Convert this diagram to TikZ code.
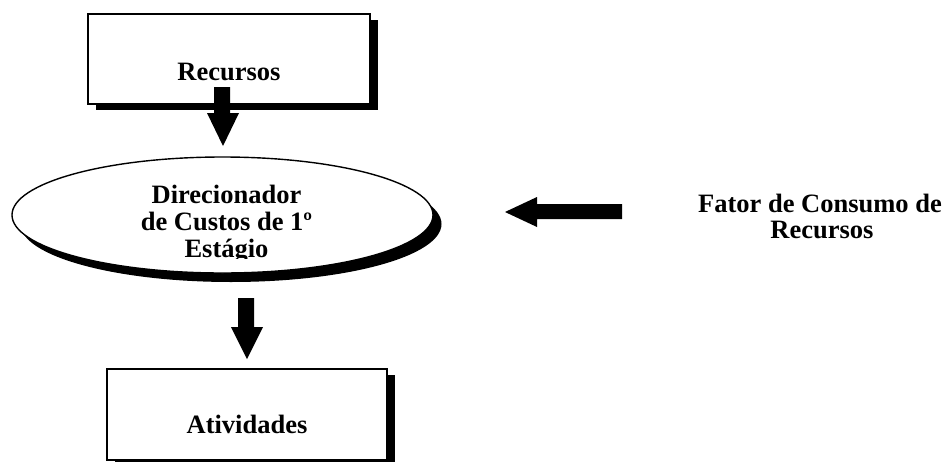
\documentclass[tikz,border=0pt]{standalone}
\usepackage{fontspec}
\setmainfont{Liberation Serif}
\begin{document}
\begin{tikzpicture}[x=1pt,y=-1pt,
  outline/.style={draw=black,line width=1.6pt,fill=white},
  shadowfill/.style={fill=black},
  label/.style={font=\fontsize{26.5}{27}\selectfont\bfseries,align=center,inner sep=0pt},
  fatarrow/.style={fill=black}]
\useasboundingbox (0,0) rectangle (946,461);
% Recursos box
\fill[shadowfill] (96,20) rectangle (378,110);
\node[outline,minimum width=282pt,minimum height=90pt,inner sep=0pt,anchor=north west] (rec) at (87,13) {};
\node[label,anchor=base] (rect) at (229,80) {Recursos};
% arrow 1
\fill[fatarrow] (214,87) -- (230,87) -- (230,113) -- (239,113) -- (223,146) -- (207,113) -- (214,113) -- cycle;
% ellipse
\fill[shadowfill] (231,224) ellipse [x radius=210.5, y radius=58];
\draw[outline,line width=1.4pt] (222.5,215) ellipse [x radius=210.5, y radius=58];
\coordinate (ell) at (222.5,215);
\begin{scope}
\clip (100,150) rectangle (360,258);
\node[label,anchor=base] (d1) at (226.5,203) {Direcionador};
\node[label,anchor=base] (d2) at (226.5,230) {de Custos de 1º};
\node[label,anchor=base] (d3) at (226.5,257) {Estágio};
\end{scope}
% left arrow
\fill[fatarrow] (622,204) -- (622,219) -- (537,219) -- (537,227) -- (505,212) -- (537,197) -- (537,204) -- cycle;
% Fator text
\node[label,anchor=base] (f1) at (820,212) {Fator de Consumo de};
\node[label,anchor=base] (f2) at (822,238) {Recursos};
% arrow 2
\fill[fatarrow] (238,298) -- (254,298) -- (254,327) -- (263,327) -- (247,359) -- (231,327) -- (238,327) -- cycle;
% Atividades box
\fill[shadowfill] (115,375) rectangle (395,470);
\node[outline,minimum width=280pt,minimum height=91pt,inner sep=0pt,anchor=north west] (ativ) at (106,368) {};
\node[label,anchor=base] (at) at (247,433) {Atividades};
\end{tikzpicture}
\end{document}
